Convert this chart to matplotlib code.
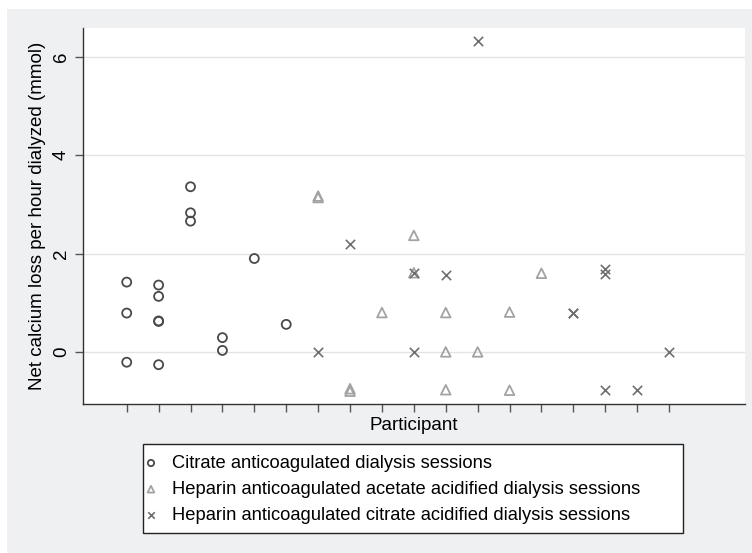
import matplotlib
matplotlib.use("Agg")
import matplotlib.pyplot as plt
from matplotlib.patches import Rectangle

plt.rcParams["font.family"] = ["Liberation Sans", "DejaVu Sans"]

# participant index and net calcium loss (mmol/h) for each session type
citrate_x = [1, 1, 1, 2, 2, 2, 2, 2, 3, 3, 3, 4, 4, 5, 6]
citrate_y = [1.42, 0.79, -0.21, 1.36, 1.13, 0.63, 0.62, -0.26, 3.36, 2.83, 2.66, 0.29, 0.03, 1.90, 0.56]

acetate_x = [7, 7, 8, 8, 9, 10, 10, 11, 11, 11, 12, 13, 13, 14]
acetate_y = [3.14, 3.17, -0.75, -0.80, 0.80, 2.37, 1.61, 0.80, 0.0, -0.77, 0.0, 0.81, -0.78, 1.60]

citacid_x = [7, 8, 10, 10, 11, 12, 15, 15, 16, 16, 16, 17, 18]
citacid_y = [0.0, 2.19, 1.60, 0.0, 1.56, 6.33, 0.79, 0.80, 1.68, 1.58, -0.78, -0.78, 0.0]

participants = list(range(1, 19))
y_ticks = [0, 2, 4, 6]

legend_labels = [
    "Citrate anticoagulated dialysis sessions",
    "Heparin anticoagulated acetate acidified dialysis sessions",
    "Heparin anticoagulated citrate acidified dialysis sessions",
]

W, H = 752, 553
fig = plt.figure(figsize=(W / 100, H / 100), dpi=100)
fig.patch.set_facecolor("white")
fig.add_artist(Rectangle((7 / W, 0), 1 - 7 / W, 1 - 9 / H, transform=fig.transFigure,
                         facecolor="#eff0f2", edgecolor="none", zorder=0))

ax = fig.add_axes([83 / W, 1 - 404 / H, (745 - 83) / W, (404 - 28) / H])
ax.set_facecolor("white")

ax.scatter(citrate_x, citrate_y, s=42, facecolors="none", edgecolors="#4a4a4a",
           linewidths=1.3, marker="o", label=legend_labels[0], zorder=3)
ax.scatter(acetate_x, acetate_y, s=48, facecolors="none", edgecolors="#a3a3a3",
           linewidths=1.3, marker="^", label=legend_labels[1], zorder=3)
ax.scatter(citacid_x, citacid_y, s=45, c="#6e6e6e", linewidths=1.2, marker="x",
           label=legend_labels[2], zorder=3)

ax.set_xlim(-0.37, 20.38)
ax.set_ylim(-1.06, 6.59)
ax.set_xticks(participants)
ax.set_xticklabels([])
ax.set_yticks(y_ticks)
ax.set_yticklabels([str(v) for v in y_ticks], rotation=90, va="center", fontsize=13.5)
ax.yaxis.grid(True, color="#e4e4e4", linewidth=1)
ax.set_axisbelow(True)

for side in ["top", "right"]:
    ax.spines[side].set_visible(False)
for side in ["left", "bottom"]:
    ax.spines[side].set_color("#333333")
    ax.spines[side].set_linewidth(1)
ax.tick_params(axis="both", direction="out", length=5.5, width=1, color="#555555", pad=4)

ax.set_xlabel("Participant", fontsize=13.5, labelpad=0)
ax.set_ylabel("Net calcium loss per hour dialyzed (mmol)", fontsize=13.5, labelpad=5)

# legend box drawn by hand so it can be wider than its text, as in the original
fig.add_artist(Rectangle((143 / W, 1 - 533 / H), (683 - 143) / W, (533 - 444) / H,
                         transform=fig.transFigure, facecolor="white",
                         edgecolor="#222222", linewidth=1, zorder=2))
handles, labels = ax.get_legend_handles_labels()
leg = fig.legend(handles, labels, loc="center left", bbox_to_anchor=(143 / W, 1 - 489.5 / H),
                 fontsize=13.2, frameon=False, markerscale=0.7, handlelength=0.87,
                 handletextpad=0.71, labelspacing=0.5, borderpad=0, borderaxespad=0)
leg.set_zorder(3)

fig.savefig("out.png", dpi=100, facecolor=fig.get_facecolor())
